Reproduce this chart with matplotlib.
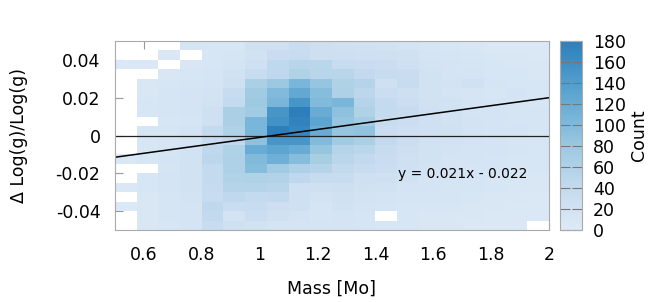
import numpy as np
import matplotlib
matplotlib.use('Agg')
import matplotlib.pyplot as plt
from matplotlib.colors import LinearSegmentedColormap

n = np.nan
# counts per bin, top row (dlogg 0.045..0.05) first, mass 0.5 -> 2.0 left to right
counts = [
    [n, n, n, 12, 10, 10, 25, 25, 32, 28, 25, 22, 20, 15, 12, 10, 8, 6, 6, 6],
    [n, n, 5, n, 10, 12, 20, 32, 35, 28, 28, 25, 25, 22, 15, 12, 10, 8, 8, 6],
    [5, 5, n, 8, 10, 15, 25, 45, 52, 50, 35, 32, 30, 25, 18, 15, 12, 10, 8, 8],
    [n, n, 8, 10, 12, 20, 35, 45, 60, 52, 52, 42, 35, 33, 20, 15, 15, 10, 10, 8],
    [n, 8, 10, 12, 15, 25, 65, 80, 105, 85, 60, 55, 25, 35, 20, 18, 22, 12, 10, 10],
    [n, 8, 12, 15, 18, 35, 75, 100, 125, 95, 62, 48, 30, 28, 20, 15, 12, 10, 15, 10],
    [n, 10, 12, 15, 20, 40, 78, 105, 150, 100, 105, 55, 40, 30, 22, 20, 15, 12, 12, 10],
    [n, 10, 12, 15, 25, 65, 75, 150, 180, 120, 90, 60, 40, 35, 25, 20, 15, 15, 12, 12],
    [n, n, 10, 12, 25, 65, 105, 155, 175, 130, 85, 72, 35, 30, 25, 20, 18, 15, 12, 12],
    [n, 12, 12, 18, 40, 60, 105, 180, 170, 120, 85, 88, 30, 28, 25, 22, 18, 15, 15, 12],
    [n, 10, 12, 15, 35, 45, 90, 150, 150, 100, 75, 65, 42, 30, 22, 20, 18, 15, 12, 12],
    [n, 10, 12, 20, 45, 60, 120, 130, 120, 85, 55, 50, 35, 28, 20, 18, 15, 15, 12, 10],
    [5, 10, 15, 20, 48, 62, 100, 115, 95, 68, 50, 42, 33, 25, 20, 15, 15, 12, 10, 10],
    [n, n, 12, 20, 40, 62, 95, 75, 62, 55, 42, 35, 30, 25, 18, 15, 12, 12, 10, 10],
    [n, 10, 15, 20, 40, 58, 60, 58, 45, 35, 35, 25, 25, 20, 15, 15, 12, 10, 10, 8],
    [5, 10, 15, 20, 38, 55, 55, 52, 25, 25, 28, 22, 20, 15, 15, 12, 12, 10, 8, 8],
    [n, 8, 12, 18, 35, 45, 40, 42, 25, 18, 22, 18, 15, 12, 12, 12, 10, 8, 8, 6],
    [4, 8, 12, 15, 45, 32, 35, 28, 25, 12, 20, 15, 12, 10, 10, 10, 8, 8, 6, 6],
    [n, 8, 12, 15, 42, 18, 30, 22, 18, 12, 15, 12, n, 10, 8, 8, 8, 6, 6, 5],
    [n, 8, 10, 15, 35, 25, 20, 15, 15, 15, 15, 12, 10, 10, 8, 8, 6, 6, 5, n],
]
mass_edges = np.linspace(0.5, 2.0, 21)
dlogg_edges = np.linspace(0.05, -0.05, 21)
slope = 0.021
intercept = -0.022
xticks = [0.6, 0.8, 1, 1.2, 1.4, 1.6, 1.8, 2]
yticks = [-0.04, -0.02, 0, 0.02, 0.04]
cticks = list(range(0, 181, 20))

blues = plt.get_cmap('Blues')
cmap = LinearSegmentedColormap.from_list('b', blues(np.linspace(0.13, 0.70, 256)))

plt.rcParams['font.family'] = 'DejaVu Sans'
plt.rcParams['font.size'] = 12.5

fig = plt.figure(figsize=(6.67, 3.02), dpi=100)
ax = fig.add_axes([0.1724, 0.2384, 0.6507, 0.6258])
cax = fig.add_axes([0.8396, 0.2384, 0.033, 0.6258])

data = np.ma.masked_invalid(np.array(counts, dtype=float))
mesh = ax.pcolormesh(mass_edges, dlogg_edges, data, cmap=cmap, vmin=0, vmax=180)

ax.axhline(0, color='#222222', lw=0.9)
xl = np.array([0.5, 2.0])
ax.plot(xl, slope * xl + intercept, color='black', lw=1.1)
ax.text(1.703, -0.0205, 'y = %.3fx - %.3f' % (slope, -intercept), fontsize=10,
        ha='center', va='center')

ax.set_xlim(0.5, 2.0)
ax.set_ylim(-0.05, 0.05)
ax.set_xticks(xticks)
ax.set_xticklabels(['%g' % v for v in xticks])
ax.set_yticks(yticks)
ax.set_yticklabels(['%g' % v for v in yticks])
ax.set_axisbelow(True)
ax.tick_params(direction='in', length=6, color='#999999', top=True, right=True)
ax.tick_params(axis='x', pad=11.5)
ax.tick_params(axis='y', pad=10.5)
for s in ax.spines.values():
    s.set_color('#aaaaaa')
ax.set_xlabel('Mass [Mo]', labelpad=11)
ax.set_ylabel('Δ Log(g)/Log(g)', labelpad=20)

cb = fig.colorbar(mesh, cax=cax, ticks=cticks)
cb.outline.set_edgecolor('#aaaaaa')
cb.ax.tick_params(direction='in', length=7, color='#777777', left=True, right=True, pad=8)
cb.set_label('Count', labelpad=3)

fig.savefig('out.png', dpi=100)
